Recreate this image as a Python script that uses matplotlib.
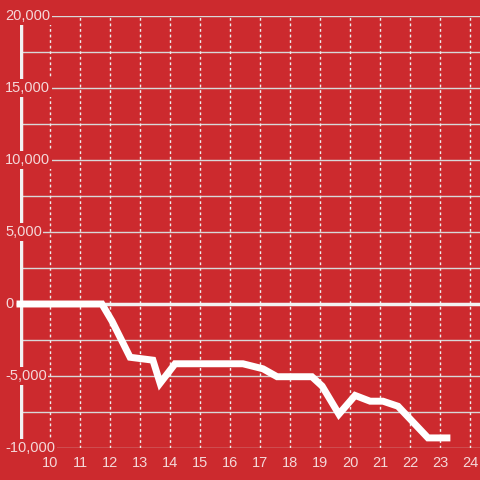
import matplotlib
matplotlib.use("Agg")
from matplotlib import pyplot as plt
import numpy as np

# dados
x_vals = [9, 11.73, 12.07, 12.67, 13.43, 13.67, 14.17, 16.43, 17.1, 17.57,
          18.73, 19.07, 19.63, 20.17, 20.67, 21.1, 21.6, 22.6, 23.23]
y_vals = [0, 0, -1200, -3700, -3900, -5500, -4150, -4150, -4500, -5050,
          -5050, -5700, -7650, -6350, -6750, -6750, -7100, -9300, -9300]

x_ticks = list(range(10, 25))
y_labels = [-10000, -5000, 0, 5000, 10000, 15000, 20000]
y_grid = np.arange(-10000, 20001, 2500)

bg = '#cc2a2e'
txt = '#f4d8d9'

plt.rcParams['font.family'] = ['Liberation Sans', 'DejaVu Sans']

fig = plt.figure(figsize=(4.8, 4.8), dpi=100, facecolor=bg)
ax = fig.add_axes([20/480, 32/480, 460/480, 432/480])
ax.set_facecolor(bg)
ax.set_xlim(9, 24.333)
ax.set_ylim(-10000, 20000)

for s in ['top', 'right', 'bottom', 'left']:
    ax.spines[s].set_visible(False)

# grelha
for g in y_grid:
    ax.axhline(g, color='#d8d8d8', lw=1, zorder=1)
for xt in x_ticks:
    ax.axvline(xt, color='#eeeeee', lw=1, ls=(0, (2, 2)), zorder=1)

# eixo y
ax.axvline(9.02, color='#f2f2f2', lw=2.5, zorder=2)

# etiquetas do eixo y por cima da grelha
for v in y_labels:
    ax.text(8.5, v, f'{v:,}', ha='left', va='center', color=txt,
            fontsize=10.5, zorder=5, clip_on=False,
            bbox=dict(facecolor=bg, edgecolor='none', pad=1.2))

# linha do zero e dados por cima das etiquetas
ax.plot([8.93, 24.4], [0, 0], color='#f2f2f2', lw=2.5, zorder=6, clip_on=False)
ax.plot(x_vals, y_vals, color='white', lw=5, solid_joinstyle='miter',
        solid_capstyle='projecting', zorder=7, clip_on=False)

ax.set_xticks(x_ticks)
ax.set_yticks([])
ax.tick_params(axis='x', length=0, pad=6, labelcolor=txt, labelsize=10.5)

fig.savefig('out.png', dpi=100, facecolor=bg)
